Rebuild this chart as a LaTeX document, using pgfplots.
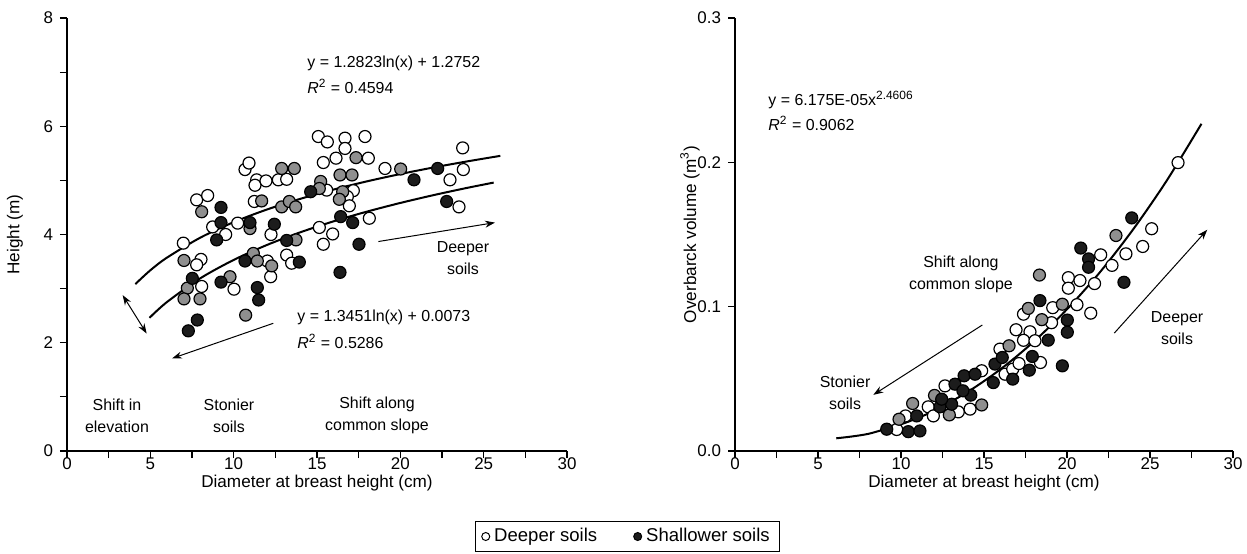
\documentclass[border=0pt]{standalone}
\usepackage{fontspec}
\setmainfont{Liberation Sans}
\usepackage{pgfplots}
\pgfplotsset{compat=1.18}
\usetikzlibrary{arrows.meta}
\definecolor{dotgray}{RGB}{143,143,143}
\definecolor{dotblack}{RGB}{28,28,28}
\newcommand{\notefont}{\fontsize{8}{11}\selectfont}
\newcommand{\tickfont}{\fontsize{8.5}{10}\selectfont}
\newcommand{\labfont}{\fontsize{8.6}{10}\selectfont}

\pgfplotsset{
  panel/.style={
    scale only axis, height=216.5bp,
    axis x line*=bottom, axis y line*=left,
    axis line style={line width=0.6bp},
    tick align=outside, major tick length=3.5bp, minor tick length=3.5bp,
    every tick/.style={black, line width=0.6bp},
    xmin=0, xmax=30, xtick={0,5,...,30}, minor xtick={2.5,7.5,...,27.5},
    tick label style={font=\tickfont},
    xticklabel style={yshift=3.5bp},
    label style={font=\labfont},
    /pgf/number format/assume math mode=true,
    xlabel style={at={(axis description cs:0.5,0)}, anchor=center, yshift=-16bp},
    clip=false,
  },
  opendot/.style={only marks, mark=*, mark size=3bp,
    mark options={draw=black, fill=white, line width=0.6bp}},
  graydot/.style={only marks, mark=*, mark size=3bp,
    mark options={draw=black, fill=dotgray, line width=0.6bp}},
  blackdot/.style={only marks, mark=*, mark size=3bp,
    mark options={draw=black, fill=dotblack, line width=0.6bp}},
  fitline/.style={black, line width=1bp, smooth, no marks},
}
\tikzset{note/.style={font=\notefont, align=center, inner sep=0pt},
  arr/.style={-{Stealth[length=5bp,width=3.5bp]}, line width=0.5bp}}

\begin{document}
\begin{tikzpicture}
\path[use as bounding box] (-33.5bp,-51.5bp) rectangle (590bp,225.5bp);

% left panel: height vs DBH
\begin{axis}[panel, width=250bp, at={(0,0)}, anchor=south west,
    ymin=0, ymax=8, ytick={0,2,...,8}, minor ytick={1,3,5,7},
    xlabel={Diameter at breast height (cm)}, ylabel={Height (m)},
    ylabel style={at={(axis description cs:-0.104,0.5)}, anchor=center},
    legend style={at={(1.121,-0.1975)}, anchor=center, draw=black, line width=0.6bp,
      font=\fontsize{9.3}{11}\selectfont, legend columns=2, inner xsep=3bp, inner ysep=1.5bp,
      /tikz/every even column/.append style={column sep=16bp}},
  ]
\addplot[opendot, legend image code/.code={\draw[black,fill=white,line width=0.5bp] (0.1cm,0) circle (2bp);}]
  coordinates {
  (6.98,3.84) (7.78,4.64) (8.44,4.72) (8.04,3.54) (7.78,3.44) (8.08,3.04)
  (8.74,4.14) (9.52,4.00) (10.24,4.21) (10.02,2.99) (10.68,5.20) (10.92,5.32)
  (11.38,5.01) (11.28,4.91) (11.94,4.99) (12.68,5.01) (13.18,5.02) (11.24,4.61)
  (12.24,4.00) (12.02,3.51) (12.22,3.22) (13.18,3.62) (13.48,3.47) (15.08,5.81)
  (15.62,5.71) (16.68,5.78) (16.68,5.59) (15.38,5.33) (16.14,5.41) (17.18,4.81)
  (16.82,4.70) (16.94,4.53) (15.58,4.82) (15.14,4.13) (15.94,4.01) (15.38,3.82)
  (17.88,5.81) (18.08,5.41) (19.08,5.22) (23.74,5.60) (23.78,5.20) (22.98,5.01)
  (23.52,4.51) (18.14,4.30)
  };
\addlegendentry{Deeper soils}
\addplot[graydot, forget plot] coordinates {
  (8.08,4.42) (7.02,3.52) (7.22,3.01) (7.02,2.81) (7.98,2.81) (9.78,3.22)
  (10.72,2.51) (10.98,4.11) (11.18,3.65) (11.42,3.51) (12.28,3.42) (11.68,4.62)
  (12.88,5.22) (13.64,5.22) (12.88,4.51) (13.34,4.61) (13.72,4.51) (13.74,3.90)
  (15.22,4.98) (15.14,4.85) (17.34,5.42) (16.38,5.10) (17.10,5.10) (16.54,4.79)
  (16.34,4.65) (20.02,5.21)
  };
\addplot[blackdot, legend image code/.code={\draw[black,fill=dotblack,line width=0.5bp] (0.1cm,0) circle (2bp);}]
  coordinates {
  (7.28,2.22) (7.82,2.42) (7.52,3.19) (9.24,4.50) (9.24,4.22) (8.98,3.90)
  (10.98,4.22) (12.44,4.19) (10.68,3.51) (9.24,3.12) (11.42,3.02) (11.50,2.79)
  (13.18,3.89) (13.94,3.49) (14.62,4.79) (16.42,4.33) (17.14,4.22) (17.52,3.82)
  (16.38,3.30) (22.24,5.22) (20.82,5.01) (22.78,4.61)
  };
\addlegendentry{Shallower soils}
% fitted curves
\addplot[fitline, forget plot] coordinates {
  (4.1,3.084) (5,3.339) (6,3.573) (8,3.942) (10,4.228) (12,4.462) (14,4.659)
  (16,4.831) (18,4.982) (20,5.117) (22,5.239) (24,5.350) (26,5.453)};
\addplot[fitline, forget plot] coordinates {
  (4.95,2.461) (6,2.753) (8,3.191) (10,3.530) (12,3.807) (14,4.041)
  (16,4.244) (18,4.423) (20,4.583) (22,4.728) (24,4.861) (25.6,4.959)};

\node[note, anchor=west] at (axis cs:14.4,7.17) {y = 1.2823ln(x) + 1.2752};
\node[note, anchor=west] at (axis cs:14.4,6.74) {\textit{R}\textsuperscript{2} = 0.4594};
\node[note, anchor=west] at (axis cs:13.8,2.46) {y = 1.3451ln(x) + 0.0073};
\node[note, anchor=west] at (axis cs:13.8,2.03) {\textit{R}\textsuperscript{2} = 0.5286};
\node[note] at (axis cs:23.76,3.57) {Deeper\\soils};
\draw[arr] (axis cs:18.68,3.87) -- (axis cs:25.68,4.22);
\node[note] at (axis cs:3.0,0.65) {Shift in\\elevation};
\draw[{Stealth[length=5bp,width=3.5bp]}-{Stealth[length=5bp,width=3.5bp]}, line width=0.5bp]
  (axis cs:3.34,2.88) -- (axis cs:4.78,2.17);
\node[note] at (axis cs:9.72,0.65) {Stonier\\soils};
\draw[arr] (axis cs:12.38,2.36) -- (axis cs:6.30,1.71);
\node[note] at (axis cs:18.6,0.65) {Shift along\\common slope};
\end{axis}

% right panel: volume vs DBH
\begin{axis}[panel, width=249bp, at={(334bp,0)}, anchor=south west,
    ymin=0, ymax=0.3, ytick={0,0.1,0.2,0.3},
    yticklabel style={/pgf/number format/.cd, fixed, fixed zerofill, precision=1},
    xlabel={Diameter at breast height (cm)},
    ylabel={Overbarck volume (m\textsuperscript{3})},
    ylabel style={at={(axis description cs:-0.0904,0.5)}, anchor=center},
  ]
\addplot[opendot] coordinates {
  (9.74,0.0149) (10.27,0.0243) (11.64,0.0306) (11.95,0.0243) (12.65,0.0451)
  (13.45,0.0271) (14.16,0.0290) (14.86,0.0556) (16.27,0.0532) (16.73,0.0567)
  (17.11,0.0606) (15.96,0.0706) (16.93,0.0840) (17.77,0.0826) (17.38,0.0767)
  (18.07,0.0764) (17.38,0.0948) (18.40,0.0613) (19.07,0.0889) (19.14,0.0993)
  (20.08,0.1201) (20.08,0.1128) (20.60,0.1014) (20.78,0.1181) (21.43,0.0955)
  (21.66,0.1160) (22.03,0.1359) (22.71,0.1286) (23.55,0.1366) (24.56,0.1417)
  (25.10,0.1540) (26.69,0.1998)
  };
\addplot[graydot] coordinates {
  (9.88,0.0220) (10.70,0.0329) (12.02,0.0385) (12.91,0.0250) (14.86,0.0319)
  (16.51,0.0729) (17.67,0.0988) (18.34,0.1219) (18.48,0.0910) (19.72,0.1017)
  (22.95,0.1493)
  };
\addplot[blackdot] coordinates {
  (9.14,0.0151) (10.44,0.0134) (11.14,0.0139) (10.95,0.0243) (12.35,0.0306)
  (13.05,0.0324) (12.45,0.0359) (13.25,0.0463) (13.80,0.0521) (14.46,0.0532)
  (14.20,0.0387) (13.73,0.0417) (15.56,0.0474) (15.66,0.0602) (16.10,0.0648)
  (16.73,0.0498) (17.73,0.0560) (17.91,0.0655) (18.37,0.1042) (18.87,0.0768)
  (19.72,0.0590) (20.02,0.0907) (20.02,0.0823) (20.83,0.1406) (21.30,0.1331)
  (21.30,0.1273) (23.43,0.1169) (23.90,0.1615)
  };
\addplot[fitline] coordinates {
  (6.1,0.0088) (7,0.0100) (8,0.0118) (9,0.0150) (10,0.0185) (11,0.0228)
  (12,0.0280) (14,0.0408) (16,0.0567) (18,0.0758) (20,0.0982) (22,0.1241)
  (24,0.1538) (26,0.1872) (28.1,0.2267)};

\node[note, anchor=west] at (axis cs:1.99,0.243) {y = 6.175E-05x\textsuperscript{2.4606}};
\node[note, anchor=west] at (axis cs:1.99,0.227) {\textit{R}\textsuperscript{2} = 0.9062};
\node[note] at (axis cs:13.61,0.1222) {Shift along\\common slope};
\draw[arr] (axis cs:14.9,0.0873) -- (axis cs:8.33,0.0389);
\node[note] at (axis cs:6.63,0.0403) {Stonier\\soils};
\node[note] at (axis cs:26.63,0.0854) {Deeper\\soils};
\draw[arr] (axis cs:22.85,0.0817) -- (axis cs:28.45,0.1533);
\end{axis}
\end{tikzpicture}
\end{document}
